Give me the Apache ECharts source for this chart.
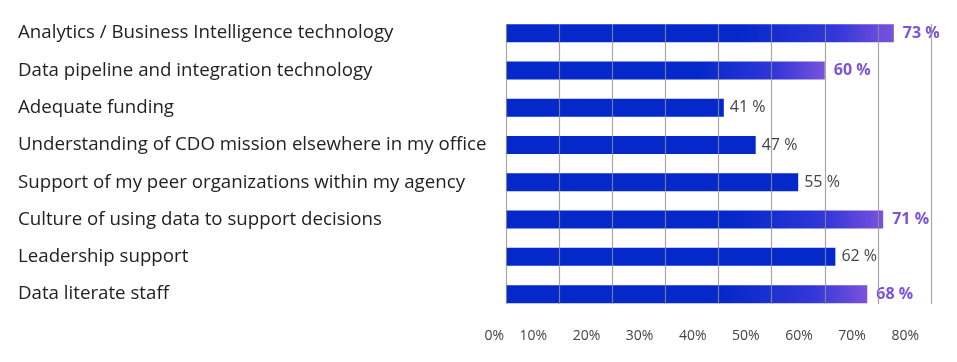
<!DOCTYPE html>
<html>
<head>
<meta charset="utf-8">
<script src="https://cdn.jsdelivr.net/npm/echarts@6/dist/echarts.min.js"></script>
<style>
html,body{margin:0;padding:0;background:#fff;}
#c{width:957px;height:362px;}
</style>
</head>
<body>
<div id="c"></div>
<script>
var categories = [
  "Analytics / Business Intelligence technology",
  "Data pipeline and integration technology",
  "Adequate funding",
  "Understanding of CDO mission elsewhere in my office",
  "Support of my peer organizations within my agency",
  "Culture of using data to support decisions",
  "Leadership support",
  "Data literate staff"
];
var values = [73, 60, 41, 47, 55, 71, 62, 68];
var highlighted = [true, true, false, false, false, true, false, true];
var tickValues = [0, 10, 20, 30, 40, 50, 60, 70, 80];

var BLUE = '#0428c9';
var PURPLE = '#7b52dc';

var barData = values.map(function (v, i) {
  var item = { value: v };
  if (highlighted[i]) {
    item.itemStyle = {
      color: new echarts.graphic.LinearGradient(0, 0, 1, 0, [
        { offset: 0, color: BLUE },
        { offset: 0.6, color: BLUE },
        { offset: 0.85, color: '#3337d8' },
        { offset: 1, color: PURPLE }
      ])
    };
    item.label = { color: PURPLE, fontWeight: 'bold', distance: 9 };
  }
  return item;
});

var chart = echarts.init(document.getElementById('c'), null, { renderer: 'canvas' });
chart.setOption({
  animation: false,
  textStyle: { fontFamily: 'Open Sans' },
  grid: [
    { left: 506, right: 26, top: 14.5, bottom: 49.2 },
    { left: 506, right: 26, top: 24, bottom: 58 }
  ],
  xAxis: [
    {
      gridIndex: 0, type: 'value', min: 0, max: 80, interval: 10,
      axisLine: { show: false }, axisTick: { show: false },
      axisLabel: { show: false }, splitLine: { show: false }
    },
    {
      gridIndex: 1, type: 'value', min: 0, max: 80, interval: 10, z: 10,
      axisLine: { show: false }, axisTick: { show: false },
      splitLine: { show: true, lineStyle: { color: 'rgba(145,145,145,0.8)', width: 1.2 } },
      axisLabel: {
        show: true, margin: 25, align: 'right',
        fontFamily: 'Open Sans', fontSize: 14, color: '#444',
        formatter: function (v) {
          return v === 0 ? '{z|' + v + '%}' : '{n|' + v + '%}';
        },
        rich: {
          z: { fontFamily: 'Open Sans', fontSize: 14, color: '#444', padding: [0, 2, 0, 0] },
          n: { fontFamily: 'Open Sans', fontSize: 14, color: '#444', padding: [0, 12, 0, 0] }
        }
      }
    }
  ],
  yAxis: [
    {
      gridIndex: 0, type: 'category', data: categories, inverse: true,
      axisLine: { show: false }, axisTick: { show: false }, splitLine: { show: false },
      axisLabel: {
        align: 'left', margin: 488, fontFamily: 'Open Sans', fontSize: 18.7, color: '#222',
        padding: [0, 0, 4, 0]
      }
    },
    {
      gridIndex: 1, type: 'category', data: categories, inverse: true,
      show: false
    }
  ],
  series: [
    {
      type: 'bar', xAxisIndex: 0, yAxisIndex: 0, data: barData, barWidth: 18,
      itemStyle: { color: BLUE },
      label: {
        show: true, position: 'right', distance: 6,
        formatter: '{c} %', fontFamily: 'Open Sans', fontSize: 16, color: '#444'
      }
    }
  ]
});
</script>
</body>
</html>
